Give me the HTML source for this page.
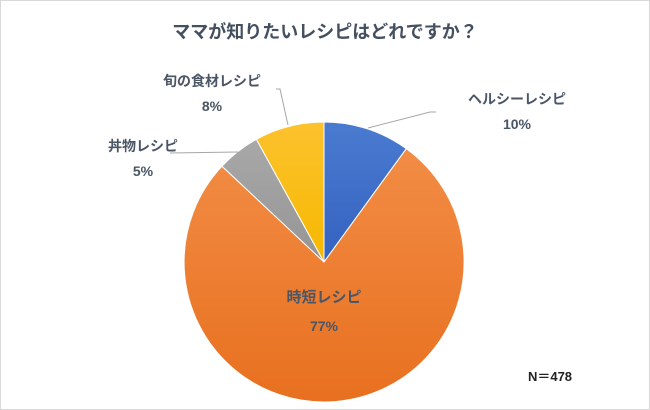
<!DOCTYPE html>
<html><head><meta charset="utf-8"><style>
html,body{margin:0;padding:0;background:#fff;}
svg{display:block;font-family:"Liberation Sans","Noto Sans CJK JP",sans-serif;}
</style></head><body>
<svg width="650" height="410" viewBox="0 0 650 410">
<defs>
<linearGradient id="o" x1="0" y1="0" x2="0" y2="1"><stop offset="0" stop-color="#f28c45"/><stop offset="1" stop-color="#e8701f"/></linearGradient>
<linearGradient id="b" x1="0" y1="0" x2="0" y2="1"><stop offset="0" stop-color="#4a7bd0"/><stop offset="1" stop-color="#3462c0"/></linearGradient>
<linearGradient id="y" x1="0" y1="0" x2="0" y2="1"><stop offset="0" stop-color="#fcc22e"/><stop offset="1" stop-color="#f6b800"/></linearGradient>
<linearGradient id="g" x1="0" y1="0" x2="0" y2="1"><stop offset="0" stop-color="#a8a8a8"/><stop offset="1" stop-color="#959595"/></linearGradient>
</defs>
<rect x="0.5" y="0.5" width="649" height="409" fill="#fff" stroke="#d9d9d9"/>
<text x="325" y="38" text-anchor="middle" font-size="18" font-weight="bold" fill="#44505f">ママが知りたいレシピはどれですか？</text>
<path d="M324,262 L324,122 A140,140 0 0 1 406.3,148.7 Z" fill="url(#b)" stroke="#fff" stroke-width="1"/>
<path d="M324,262 L406.3,148.7 A140,140 0 1 1 222,166.2 Z" fill="url(#o)" stroke="#fff" stroke-width="1"/>
<path d="M324,262 L222,166.2 A140,140 0 0 1 256.4,139.3 Z" fill="url(#g)" stroke="#fff" stroke-width="1"/>
<path d="M324,262 L256.4,139.3 A140,140 0 0 1 324,122 Z" fill="url(#y)" stroke="#fff" stroke-width="1"/>
<g stroke="#a6a6a6" stroke-width="1" fill="none">
<polyline points="368,128 430,112 436,112"/>
<polyline points="238,152 170,153"/>
<polyline points="288,125 280,89 276,89"/>
</g>
<g font-size="14" font-weight="bold" fill="#4a5566" text-anchor="middle">
<text x="517" y="104">ヘルシーレシピ</text>
<text x="517" y="129">10%</text>
<text x="212" y="86">旬の食材レシピ</text>
<text x="212" y="111">8%</text>
<text x="143" y="151">丼物レシピ</text>
<text x="143" y="176">5%</text>
<text x="324" y="302" font-size="15">時短レシピ</text>
<text x="324" y="331">77%</text>
<text x="550" y="381" font-size="13" fill="#222">N＝478</text>
</g>
</svg>
</body></html>
